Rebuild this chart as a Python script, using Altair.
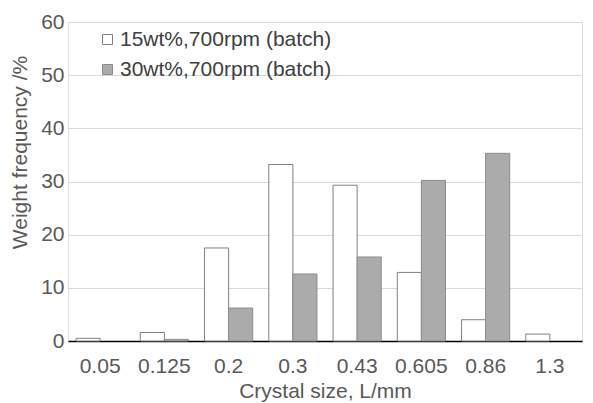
import altair as alt
import pandas as pd

sizes = ["0.05", "0.125", "0.2", "0.3", "0.43", "0.605", "0.86", "1.3"]
series_a = "15wt%,700rpm (batch)"
series_b = "30wt%,700rpm (batch)"
values_a = [0.5, 1.6, 17.5, 33.2, 29.3, 12.9, 4.0, 1.3]
values_b = [0.0, 0.3, 6.2, 12.6, 15.8, 30.2, 35.3, 0.0]

rows = []
for s, a, b in zip(sizes, values_a, values_b):
    rows.append({"size": s, "series": series_a, "value": a})
    rows.append({"size": s, "series": series_b, "value": b})
df = pd.DataFrame(rows)

font = "Liberation Sans"
grey = "#595959"

chart = alt.Chart(df).mark_bar(strokeWidth=1).encode(
    x=alt.X("size:N", sort=sizes, title="Crystal size, L/mm",
            scale=alt.Scale(paddingInner=0.25, paddingOuter=0.125),
            axis=alt.Axis(labelAngle=0, labelFontSize=21, titleFontSize=21,
                          titleFontWeight="normal",
                          labelColor=grey, titleColor=grey,
                          domainColor="#000000", domainWidth=1.5, ticks=False,
                          labelPadding=14, titlePadding=4, labelFont=font, titleFont=font)),
    xOffset=alt.XOffset("series:N", sort=[series_a, series_b]),
    y=alt.Y("value:Q", title="Weight frequency /%",
            scale=alt.Scale(domain=[0, 60]),
            axis=alt.Axis(values=[0, 10, 20, 30, 40, 50, 60], labelFontSize=21,
                          titleFontSize=21, titleFontWeight="normal",
                          labelColor=grey, titleColor=grey, titleY=130,
                          domain=False, ticks=False, gridColor="#d9d9d9", labelPadding=4,
                          titlePadding=10, labelFont=font, titleFont=font)),
    fill=alt.Fill("series:N", sort=[series_a, series_b],
                  scale=alt.Scale(domain=[series_a, series_b], range=["#ffffff", "#ababab"]),
                  legend=alt.Legend(title=None, orient="none", legendX=29, legendY=7,
                                    labelFontSize=21, labelColor="#404040", labelFont=font,
                                    labelLimit=400,
                                    symbolType="square", symbolSize=100, rowPadding=8,
                                    symbolStrokeWidth=1, labelOffset=2)),
    stroke=alt.Stroke("series:N", sort=[series_a, series_b],
                      scale=alt.Scale(domain=[series_a, series_b], range=["#7f7f7f", "#8c8c8c"]),
                      legend=None),
).transform_filter(
    alt.datum.value > 0
).properties(
    width=514, height=319,
    autosize=alt.AutoSizeParams(type="none"),
    padding={"left": 60, "top": 14, "right": 3, "bottom": 70},
).configure_view(stroke=None).configure(background="#ffffff")

chart.save("out.html", embed_options={"renderer": "svg", "actions": False})
